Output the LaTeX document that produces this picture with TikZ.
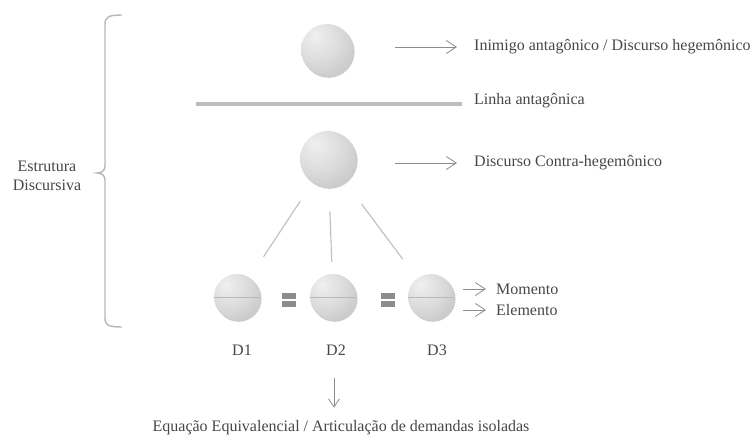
\documentclass[tikz,border=0pt]{standalone}
\usepackage{fontspec}
\setmainfont{Liberation Serif}
\usetikzlibrary{arrows.meta,shadows}
\pgfdeclareradialshading{disc}{\pgfpoint{-12bp}{14bp}}{%
  color(0bp)=(black!6); color(22bp)=(black!14); color(40bp)=(black!22); color(55bp)=(black!27); color(100bp)=(black!27)}
\tikzset{
  txt/.style={font=\fontsize{16}{19}\selectfont, text=black!72, inner sep=0pt},
  ball/.style={circle, minimum size=#1, inner sep=0pt, shading=disc,
     drop shadow={shadow xshift=1.6pt, shadow yshift=-1.8pt, opacity=0.2, fill=black}},
  conn/.style={draw=black!25, line width=1.1pt},
  arr/.style={draw=black!45, line width=0.8pt, -{Straight Barb[length=10pt,width=13pt,line width=0.8pt]}},
  bracepath/.style={draw=black!28, line width=1.4pt},
  eqbar/.style={fill=black!45},
  midline/.style={draw=black!28, line width=0.7pt}
}
\begin{document}
\begin{tikzpicture}[x=1pt,y=-1pt]
\useasboundingbox[fill=white] (0,0) rectangle (754,440);

% brace
\draw[bracepath] (122,15) .. controls (108,15) and (105,17) .. (105,25) -- (105,166)
  .. controls (105,171) and (101,173) .. (97,173) .. controls (101,173) and (105,175) .. (105,180)
  -- (105,318) .. controls (105,325) and (108,327) .. (122,327);
\node[txt, align=center] (estr) at (47,176) {Estrutura\\Discursiva};

% top circle
\node[ball=52pt] (top) at (327,50) {};
\node[txt, anchor=west] (labA) at (474,47) {Inimigo antagônico / Discurso hegemônico};
\draw[arr, shorten <=42pt, shorten >=17pt] (top.east |- labA.west) -- (labA.west);

% antagonic line
\coordinate (la) at (196,104);
\coordinate (lb) at (462,104);
\draw[draw=black!26, line width=4.5pt] (la) -- (lb);
\node[txt, anchor=west] (labL) at (474,101) {Linha antagônica};

% middle circle
\node[ball=56pt] (mid) at (328,159) {};
\node[txt, anchor=west] (labC) at (474,163) {Discurso Contra-hegemônico};
\draw[arr, shorten <=39pt, shorten >=17pt] (mid.east |- labC.west) -- (labC.west);

% bottom circles
\node[ball=46pt] (d1) at (237,297) {};
\node[ball=46pt] (d2) at (333,297) {};
\node[ball=46pt] (d3) at (431,297) {};
\foreach \n in {d1,d2,d3} {\draw[midline] (\n.west) -- (\n.east);}

% connectors
\draw[conn, shorten <=22pt, shorten >=25pt] (mid) -- (d1);
\draw[conn, shorten <=24pt, shorten >=12pt] (mid) -- (d2);
\draw[conn, shorten <=28pt, shorten >=24pt] (mid) -- (d3);

% equal signs
\node[inner sep=0pt, minimum width=14pt, minimum height=13pt] (eq1) at (289,300) {};
\node[inner sep=0pt, minimum width=14pt, minimum height=13pt] (eq2) at (388,300) {};
\foreach \e in {eq1,eq2} {
  \fill[eqbar] (\e.north west) rectangle ([yshift=-5.5pt]\e.north east);
  \fill[eqbar] ([yshift=5.5pt]\e.south west) rectangle (\e.south east);
}

% momento / elemento
\node[txt, anchor=west] (mom) at (496,289) {Momento};
\node[txt, anchor=west] (ele) at (496,310) {Elemento};
\coordinate (m1) at (463,289);
\coordinate (e1) at (463,310);
\draw[arr, shorten >=10pt] (m1) -- (mom.west);
\draw[arr, shorten >=10pt] (e1) -- (ele.west);

% labels D
\node[txt] (l1) at (242,350) {D1};
\node[txt] (l2) at (336,350) {D2};
\node[txt] (l3) at (437,350) {D3};

% bottom label
\node[txt] (eqv) at (341,428) {Equação Equivalencial / Articulação de demandas isoladas};
\draw[arr, -{Straight Barb[length=8pt,width=11pt,line width=0.8pt]}, shorten <=22pt, shorten >=13pt] ([xshift=-2pt]l2.south) -- ([xshift=-2pt]l2.south |- eqv.north);
\end{tikzpicture}
\end{document}
